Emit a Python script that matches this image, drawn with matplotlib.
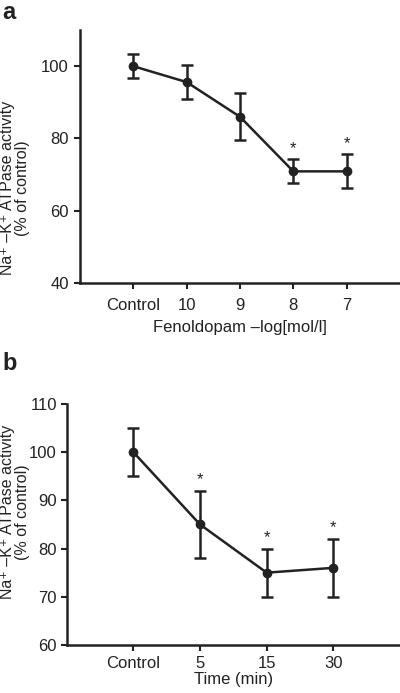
import matplotlib.pyplot as plt

plt.rcParams['font.family'] = ['Liberation Sans', 'DejaVu Sans']

# panel a: fenoldopam dose response
dose_labels = ['Control', '10', '9', '8', '7']
dose_mean = [100, 95.6, 86.0, 70.9, 70.9]
dose_err = [3.3, 4.6, 6.5, 3.3, 4.7]
dose_star = [False, False, False, True, True]

# panel b: time course
time_labels = ['Control', '5', '15', '30']
time_mean = [100, 85, 75, 76]
time_err = [5, 7, 5, 6]
time_star = [False, True, True, True]

ylabel = 'Na\u207a \u2013K\u207a ATPase activity\n(% of control)'
col = '#222222'
W, H = 400, 693


def draw_panel(ax, labels, mean, err, star, ylim, yticks, xlabel, xpad, lpad):
    x = list(range(1, len(labels) + 1))
    ax.errorbar(x, mean, yerr=err, color=col, lw=1.8, marker='o', ms=6,
                capsize=4.5, capthick=1.8, elinewidth=1.8)
    for xi, m, e, s in zip(x, mean, err, star):
        if s:
            ax.text(xi, m + e + 0.8, '*', ha='center', va='bottom',
                    fontsize=12, color=col)
    ax.set_xlim(0, len(labels) + 1)
    ax.set_ylim(*ylim)
    ax.set_xticks(x)
    ax.set_xticklabels(labels)
    ax.set_yticks(yticks)
    for side in ['top', 'right']:
        ax.spines[side].set_visible(False)
    for side in ['left', 'bottom']:
        ax.spines[side].set_linewidth(1.8)
        ax.spines[side].set_color(col)
    ax.tick_params(length=4, width=1.5, color=col, labelsize=12,
                   labelcolor=col, pad=4)
    ax.tick_params(axis='x', pad=xpad)
    ax.set_xlabel(xlabel, fontsize=12, color=col, labelpad=lpad)


fig = plt.figure(figsize=(W / 100, H / 100), dpi=100)

ax1 = fig.add_axes([0.2, 0.5916, 0.8, 0.365])
draw_panel(ax1, dose_labels, dose_mean, dose_err, dose_star,
           (40, 110), [40, 60, 80, 100], 'Fenoldopam \u2013log[mol/l]', 7, 5)

ax2 = fig.add_axes([0.1667, 0.0693, 0.8333, 0.3478])
draw_panel(ax2, time_labels, time_mean, time_err, time_star,
           (60, 110), [60, 70, 80, 90, 100, 110], 'Time (min)', 4, 1)
ax2.tick_params(axis='y', pad=3)

# y labels sit at the same x in both panels
for yc in [188, 512]:
    fig.text(15.5 / W, 1 - yc / H, ylabel, rotation=90, ha='center', va='center',
             fontsize=11.5, color=col, multialignment='center', linespacing=1.0)

fig.text(0.005, 0.998, 'a', fontsize=17, fontweight='bold', va='top', color=col)
fig.text(0.005, 1 - 352 / H, 'b', fontsize=17, fontweight='bold', va='top', color=col)

fig.savefig('out.png', dpi=100)
